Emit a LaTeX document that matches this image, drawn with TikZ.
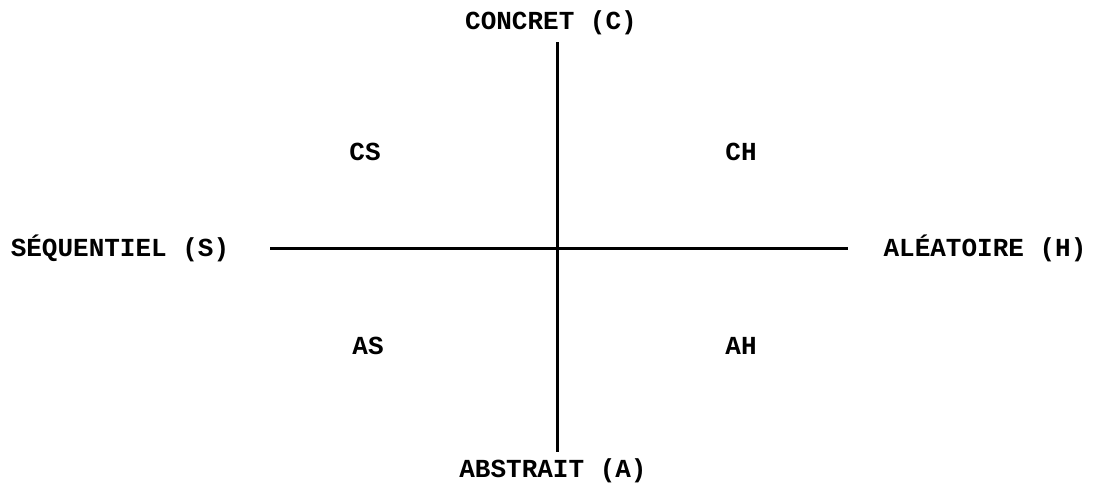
\documentclass[tikz,border=0pt]{standalone}
\usepackage{fontspec}
\setmainfont{Liberation Mono}
\begin{document}
\begin{tikzpicture}[x=1pt,y=-1pt,
  lbl/.style={font=\fontsize{26}{28}\selectfont\bfseries, inner sep=0pt, anchor=base},
  axis/.style={line width=3pt}]
\useasboundingbox (0,0) rectangle (1101,488);
\coordinate (top) at (557,42);
\coordinate (bot) at (557,452);
\coordinate (lft) at (270,248);
\coordinate (rgt) at (848,248);
\draw[axis] (top) -- (bot);
\draw[axis] (lft) -- (rgt);
\node[lbl] (C) at (551,29) {CONCRET (C)};
\node[lbl] (A) at (553,477) {ABSTRAIT (A)};
\node[lbl] (S) at (120,256) {SÉQUENTIEL (S)};
\node[lbl] (H) at (985,256) {ALÉATOIRE (H)};
\node[lbl] (CS) at (365,160) {CS};
\node[lbl] (CH) at (741,160) {CH};
\node[lbl] (AS) at (368,354) {AS};
\node[lbl] (AH) at (741,354) {AH};
\end{tikzpicture}
\end{document}
